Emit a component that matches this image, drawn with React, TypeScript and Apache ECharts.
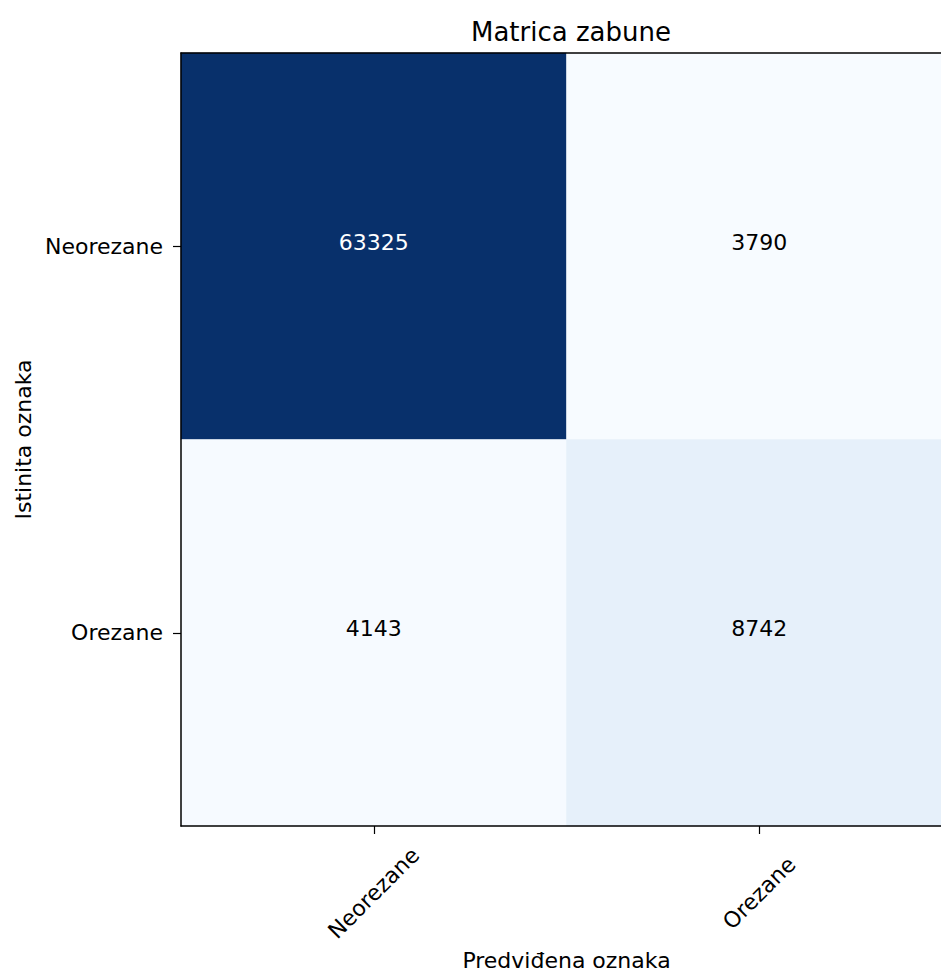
import React, { useEffect, useRef } from "react";
import * as echarts from "echarts";

const title = "Matrica zabune";
const predictedLabels = ["Neorezane", "Orezane"];
const trueLabels = ["Neorezane", "Orezane"];
const rowNeorezane = [63325, 3790];
const rowOrezane = [4143, 8742];
const xAxisName = "Predviđena oznaka";
const yAxisName = "Istinita oznaka";

const blues = [
  "#f7fbff",
  "#deebf7",
  "#c6dbef",
  "#9ecae1",
  "#6baed6",
  "#4292c6",
  "#2171b5",
  "#08519c",
  "#08306b",
];

const FONT = "DejaVu Sans";

export default function App() {
  const ref = useRef<HTMLDivElement>(null);

  useEffect(() => {
    if (!ref.current) return;
    const chart = echarts.init(ref.current, null, { renderer: "svg" });
    const rows = [rowNeorezane, rowOrezane];
    const all = rows.flat();
    const vmin = Math.min(...all);
    const vmax = Math.max(...all);
    const thresh = vmax / 2;
    const data: any[] = [];
    rows.forEach((row, yi) => {
      row.forEach((v, xi) => {
        data.push({
          value: [xi, yi, v],
          label: { color: v > thresh ? "#ffffff" : "#000000" },
        });
      });
    });

    const lineStyle = { color: "#000", width: 1.5 };

    chart.setOption({
      animation: false,
      backgroundColor: "#ffffff",
      title: {
        text: title,
        left: 566,
        textAlign: "center",
        top: 14,
        textStyle: {
          fontFamily: FONT,
          fontSize: 26,
          fontWeight: "normal",
          color: "#000",
        },
      },
      grid: {
        left: 181,
        top: 53,
        width: 771,
        height: 773,
        outerBoundsMode: "none",
        containLabel: false,
      },
      visualMap: {
        show: false,
        min: vmin,
        max: vmax,
        dimension: 2,
        inRange: { color: blues },
      },
      xAxis: [
        {
          type: "category",
          data: predictedLabels,
          position: "bottom",
          name: xAxisName,
          nameLocation: "middle",
          nameGap: 122,
          nameTextStyle: { fontFamily: FONT, fontSize: 22, color: "#000" },
          axisLine: { show: true, lineStyle },
          axisTick: {
            show: true,
            alignWithLabel: true,
            length: 8,
            lineStyle: { color: "#000", width: 1.2 },
          },
          axisLabel: {
            rotate: 45,
            align: "center",
            verticalAlign: "middle",
            margin: 67,
            fontFamily: FONT,
            fontSize: 22,
            color: "#000",
          },
          splitLine: { show: false },
          splitArea: { show: false },
          z: 10,
        },
        {
          type: "category",
          data: predictedLabels,
          position: "top",
          axisLine: { show: true, lineStyle },
          axisTick: { show: false },
          axisLabel: { show: false },
          splitLine: { show: false },
          z: 10,
        },
      ],
      yAxis: [
        {
          type: "category",
          data: trueLabels,
          inverse: true,
          position: "left",
          name: yAxisName,
          nameLocation: "middle",
          nameGap: 142,
          nameRotate: 90,
          nameTextStyle: { fontFamily: FONT, fontSize: 22, color: "#000" },
          axisLine: { show: true, lineStyle },
          axisTick: {
            show: true,
            alignWithLabel: true,
            length: 8,
            lineStyle: { color: "#000", width: 1.2 },
          },
          axisLabel: {
            margin: 18,
            fontFamily: FONT,
            fontSize: 22,
            color: "#000",
          },
          splitLine: { show: false },
          splitArea: { show: false },
          z: 10,
        },
        {
          type: "category",
          data: trueLabels,
          inverse: true,
          position: "right",
          axisLine: { show: true, lineStyle },
          axisTick: { show: false },
          axisLabel: { show: false },
          splitLine: { show: false },
          z: 10,
        },
      ],
      series: [
        {
          type: "heatmap",
          xAxisIndex: 0,
          yAxisIndex: 0,
          data,
          label: {
            show: true,
            fontFamily: FONT,
            fontSize: 22,
            offset: [0, -4],
            formatter: (p: any) => String(p.value[2]),
          },
          emphasis: { disabled: true },
        },
      ],
    });

    return () => chart.dispose();
  }, []);

  return (
    <div
      ref={ref}
      style={{ position: "absolute", left: 0, top: 0, width: 941, height: 972 }}
    />
  );
}
